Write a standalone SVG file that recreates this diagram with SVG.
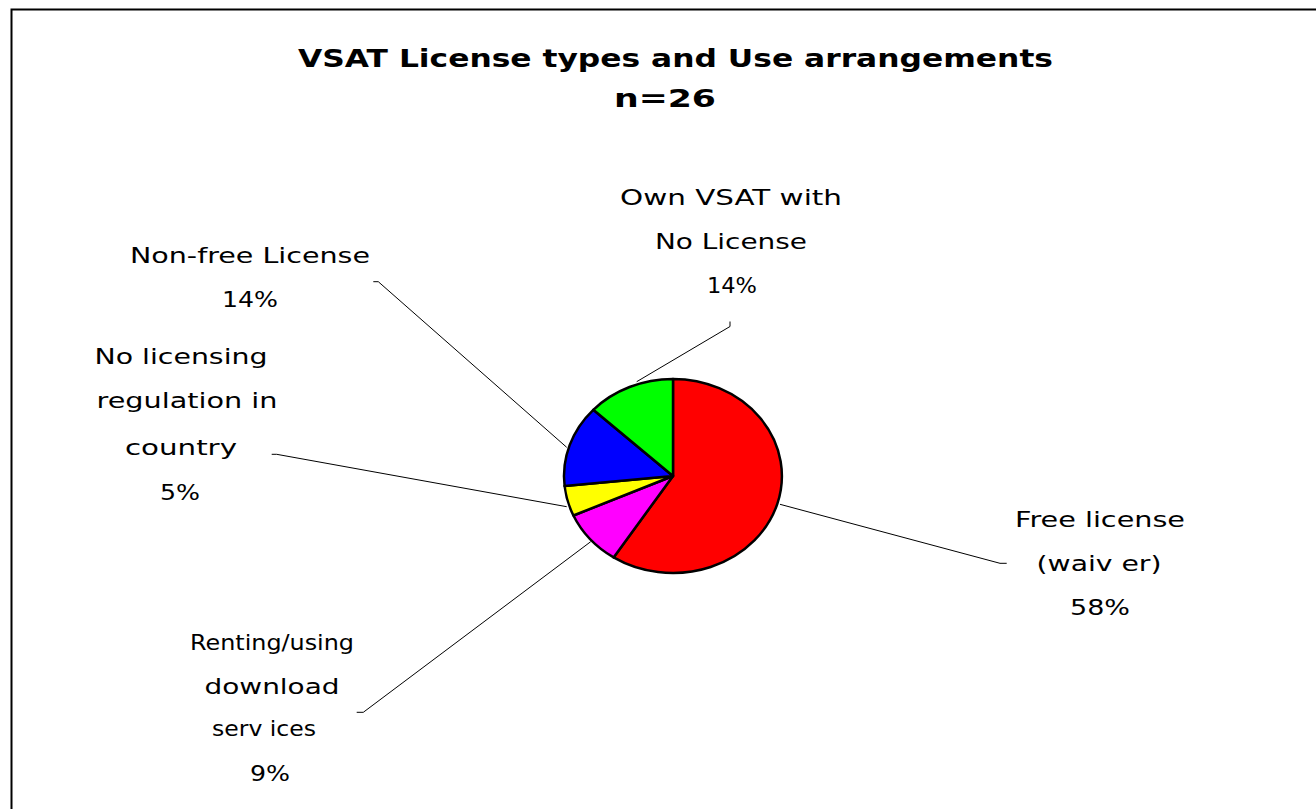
<svg xmlns="http://www.w3.org/2000/svg" width="1316" height="809" viewBox="0 0 1316 809">
  <style>
    .title { font-family: "DejaVu Sans", "Liberation Sans", sans-serif; font-weight: bold; font-size: 24px; fill: #000; text-anchor: middle; }
    .lbl { font-family: "DejaVu Sans", "Liberation Sans", sans-serif; font-size: 21px; fill: #000; text-anchor: middle; }
    .slice { stroke: #000; stroke-width: 2.5; stroke-linejoin: round; }
    .leader { fill: none; stroke: #000; stroke-width: 1; }
  </style>

  <!-- chart frame -->
  <rect x="0" y="0" width="1316" height="809" fill="#fff"/>
  <rect x="11.5" y="9.5" width="1310" height="820" fill="none" stroke="#000" stroke-width="2"/>

  <!-- title -->
  <g id="title">
    <text class="title" x="675.5" y="67" textLength="755" lengthAdjust="spacingAndGlyphs">VSAT License types and Use arrangements</text>
    <text class="title" x="665" y="107" textLength="102" lengthAdjust="spacingAndGlyphs">n=26</text>
  </g>

  <!-- leader lines -->
  <g id="connectors">
    <polyline class="leader" points="730,321.5 730,326.5 636.7,381.7"/>
    <polyline class="leader" points="373.3,281.7 378.3,281.7 566.7,447.3"/>
    <polyline class="leader" points="271.7,454.3 276.7,454.3 566.7,506.7"/>
    <polyline class="leader" points="356.7,712.3 363.3,712.3 590.7,541.7"/>
    <polyline class="leader" points="780,504.3 1000,563.3 1006.7,563.3"/>
  </g>

  <!-- pie slices -->
  <g id="slice-free">
    <path class="slice" fill="#ff0000" d="M673,476 L673,379 A109,97 0 1 1 613.6,557.4 Z"/>
  </g>
  <g id="slice-renting">
    <path class="slice" fill="#ff00ff" d="M673,476 L613.6,557.4 A109,97 0 0 1 573.4,515.5 Z"/>
  </g>
  <g id="slice-noreg">
    <path class="slice" fill="#ffff00" d="M673,476 L573.4,515.5 A109,97 0 0 1 564.6,486.1 Z"/>
  </g>
  <g id="slice-nonfree">
    <path class="slice" fill="#0000ff" d="M673,476 L564.6,486.1 A109,97 0 0 1 593.3,409.8 Z"/>
  </g>
  <g id="slice-own">
    <path class="slice" fill="#00ff00" d="M673,476 L593.3,409.8 A109,97 0 0 1 673,379 Z"/>
  </g>

  <!-- data labels -->
  <g id="label-own">
    <text class="lbl" x="731" y="205" textLength="222" lengthAdjust="spacingAndGlyphs">Own VSAT with</text>
    <text class="lbl" x="731" y="249" textLength="152" lengthAdjust="spacingAndGlyphs">No License</text>
    <text class="lbl" x="732" y="293" textLength="50" lengthAdjust="spacingAndGlyphs">14%</text>
  </g>
  <g id="label-nonfree">
    <text class="lbl" x="250" y="263" textLength="240" lengthAdjust="spacingAndGlyphs">Non-free License</text>
    <text class="lbl" x="250" y="307" textLength="56" lengthAdjust="spacingAndGlyphs">14%</text>
  </g>
  <g id="label-noreg">
    <text class="lbl" x="181" y="364" textLength="173" lengthAdjust="spacingAndGlyphs">No licensing</text>
    <text class="lbl" x="187" y="408" textLength="181" lengthAdjust="spacingAndGlyphs">regulation in</text>
    <text class="lbl" x="181" y="455" textLength="112" lengthAdjust="spacingAndGlyphs">country</text>
    <text class="lbl" x="180" y="500" textLength="40" lengthAdjust="spacingAndGlyphs">5%</text>
  </g>
  <g id="label-renting">
    <text class="lbl" x="272" y="650" textLength="164" lengthAdjust="spacingAndGlyphs">Renting/using</text>
    <text class="lbl" x="272" y="694" textLength="135" lengthAdjust="spacingAndGlyphs">download</text>
    <text class="lbl" x="264" y="736" textLength="104" lengthAdjust="spacingAndGlyphs">serv ices</text>
    <text class="lbl" x="270" y="781" textLength="40" lengthAdjust="spacingAndGlyphs">9%</text>
  </g>
  <g id="label-free">
    <text class="lbl" x="1100" y="527" textLength="170" lengthAdjust="spacingAndGlyphs">Free license</text>
    <text class="lbl" x="1099" y="571" textLength="125" lengthAdjust="spacingAndGlyphs">(waiv er)</text>
    <text class="lbl" x="1100" y="615" textLength="60" lengthAdjust="spacingAndGlyphs">58%</text>
  </g>
</svg>
